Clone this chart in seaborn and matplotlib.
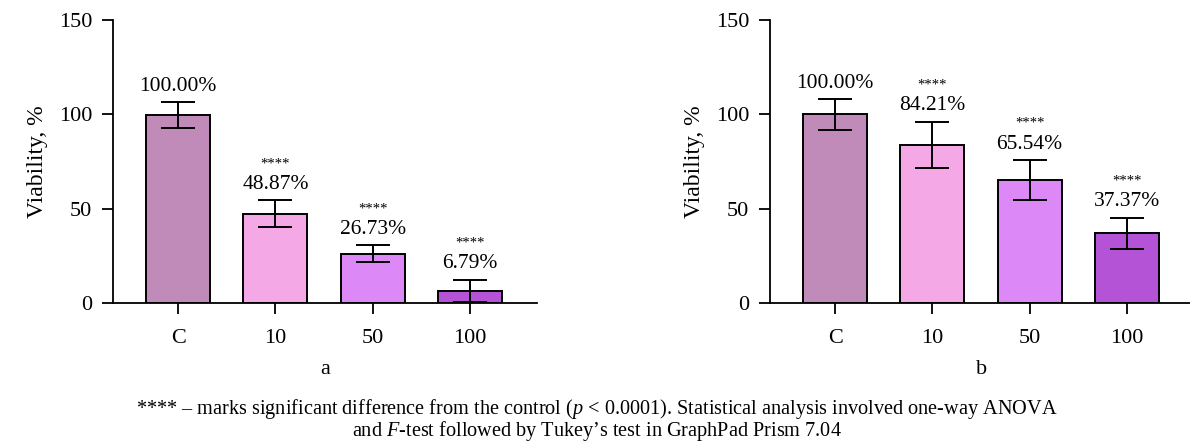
import matplotlib
matplotlib.use("Agg")
import matplotlib.pyplot as plt
import seaborn as sns
import pandas as pd

# ---- data ----
categories = ["C", "10", "50", "100"]
values_a = [99.5, 47.4, 26.2, 6.4]
errors_a = [7.0, 7.1, 4.3, 6.0]
labels_a = ["100.00%", "48.87%", "26.73%", "6.79%"]
values_b = [100.0, 83.9, 65.2, 37.0]
errors_b = [8.1, 12.3, 10.8, 8.3]
labels_b = ["100.00%", "84.21%", "65.54%", "37.37%"]
stars = ["", "****", "****", "****"]
colors = ["#C08AB9", "#F5A8E6", "#DD88F7", "#B553D6"]
yticks = [0, 50, 100, 150]
panel_names = ["a", "b"]
caption1 = r"**** – marks significant difference from the control ($\mathit{p}$ < 0.0001). Statistical analysis involved one-way ANOVA"
caption2 = r"and $\mathit{F}$-test followed by Tukey’s test in GraphPad Prism 7.04"

sns.set_theme(style="ticks")
plt.rcParams["font.family"] = ["Liberation Serif", "DejaVu Serif"]
plt.rcParams["mathtext.fontset"] = "custom"
plt.rcParams["mathtext.rm"] = "Liberation Serif"
plt.rcParams["mathtext.it"] = "Liberation Serif:italic"
plt.rcParams["axes.linewidth"] = 1.3
plt.rcParams["text.color"] = "black"
plt.rcParams["axes.labelcolor"] = "black"
plt.rcParams["xtick.color"] = "black"
plt.rcParams["ytick.color"] = "black"
plt.rcParams["axes.edgecolor"] = "black"

fig = plt.figure(figsize=(11.9, 4.47), dpi=100)
W, H = 1190, 447
ax_left = [113, 770]
axes = []
for i, (vals, errs, labs) in enumerate([(values_a, errors_a, labels_a),
                                         (values_b, errors_b, labels_b)]):
    ax = fig.add_axes([ax_left[i] / W, (H - 303) / H, 424 / W, 283 / H])
    df = pd.DataFrame({"cat": categories, "val": vals})
    sns.barplot(data=df, x="cat", y="val", hue="cat", palette=colors,
                saturation=1, width=0.66, edgecolor="black", linewidth=1.4,
                legend=False, ax=ax)
    xs = [p.get_x() + p.get_width() / 2 for p in ax.patches]
    ax.errorbar(xs, vals, yerr=errs, fmt="none", ecolor="black",
                elinewidth=1.4, capsize=12, capthick=1.4, zorder=5)
    for x, v, e, lab, st in zip(xs, vals, errs, labs, stars):
        ax.annotate(lab, (x, v + e), xytext=(0, 8), textcoords="offset points",
                    ha="center", va="baseline", fontsize=15.5, color="black")
        if st:
            ax.annotate(st, (x, v + e), xytext=(0, 23.5), textcoords="offset points",
                        ha="center", va="baseline", fontsize=10.5, color="black")
    ax.set_xlim(-0.67, 3.69)
    ax.set_ylim(0, 150)
    ax.set_yticks(yticks)
    ax.set_yticklabels([str(t) for t in yticks])
    ax.tick_params(axis="y", length=8, width=1.3, pad=7, labelsize=16, colors="black")
    ax.tick_params(axis="x", length=8, width=1.3, pad=11, labelsize=16, colors="black")
    ax.set_ylabel("Viability, %", fontsize=17, labelpad=8, color="black")
    ax.set_xlabel(panel_names[i], fontsize=16, labelpad=8, color="black")
    for s in ["top", "right"]:
        ax.spines[s].set_visible(False)
    for s in ["left", "bottom"]:
        ax.spines[s].set_color("black")
    axes.append(ax)

fig.text(597 / W, 1 - 409 / H, caption1, ha="center", va="center", fontsize=14.6)
fig.text(597 / W, 1 - 431 / H, caption2, ha="center", va="center", fontsize=14.6)

fig.savefig("out.png", dpi=100)
